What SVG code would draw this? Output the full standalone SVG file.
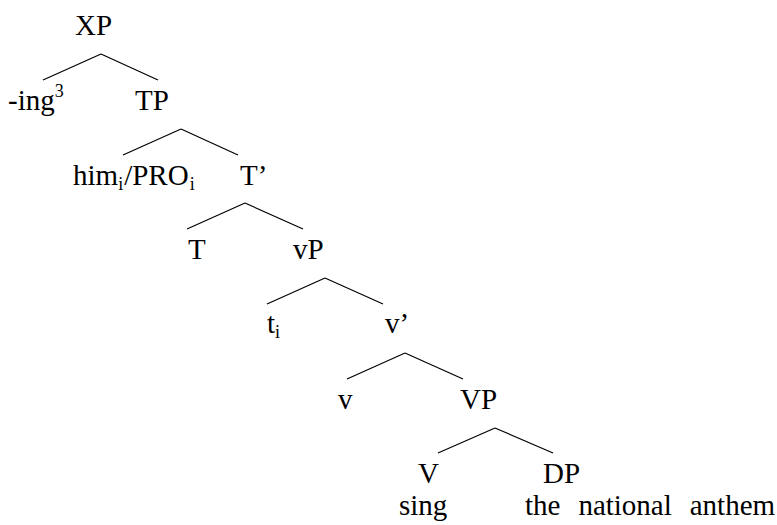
<svg xmlns="http://www.w3.org/2000/svg" width="777" height="525" viewBox="0 0 777 525">
<style>
.lbl{font-family:'Liberation Serif','Times New Roman',serif;font-size:29px;fill:#000}
.sm{font-size:18px}
line{stroke:#000;stroke-width:1.2}
</style>
<rect width="777" height="525" fill="#fff"/>
<g id="connectors">
<line x1="101" y1="54" x2="43" y2="80"/><line x1="101" y1="54" x2="158" y2="80"/>
<line x1="181" y1="129" x2="123" y2="155"/><line x1="181" y1="129" x2="238" y2="155"/>
<line x1="245" y1="203" x2="187" y2="229"/><line x1="245" y1="203" x2="303" y2="229"/>
<line x1="325" y1="278" x2="267" y2="304"/><line x1="325" y1="278" x2="383" y2="304"/>
<line x1="405" y1="353" x2="347" y2="379"/><line x1="405" y1="353" x2="463" y2="379"/>
<line x1="495" y1="428" x2="438" y2="453"/><line x1="495" y1="428" x2="553" y2="453"/>
</g>
<g class="lbl" font-family="Liberation Serif, Times New Roman, serif">
<g id="XP"><text x="75" y="35">XP</text></g>
<g id="ing"><text x="8" y="110">-ing<tspan class="sm" dy="-13">3</tspan></text></g>
<g id="TP"><text x="135" y="110">TP</text></g>
<g id="him"><text x="73" y="185">him<tspan class="sm" dy="5">i</tspan><tspan dy="-5" dx="1">/PRO</tspan><tspan class="sm" dy="5" dx="1">i</tspan></text></g>
<g id="Tbar"><text x="240" y="185">T’</text></g>
<g id="T"><text x="188" y="259">T</text></g>
<g id="vP"><text x="293" y="259">vP</text></g>
<g id="ti"><text x="267" y="333">t<tspan class="sm" dy="5">i</tspan></text></g>
<g id="vbar"><text x="385" y="333">v’</text></g>
<g id="v"><text x="338" y="409">v</text></g>
<g id="VP"><text x="460" y="409">VP</text></g>
<g id="V"><text x="418" y="483">V</text><text x="399" y="515">sing</text></g>
<g id="DP"><text x="543" y="483">DP</text><text x="525" y="515" word-spacing="10.7">the national anthem</text></g>
</g>
</svg>
